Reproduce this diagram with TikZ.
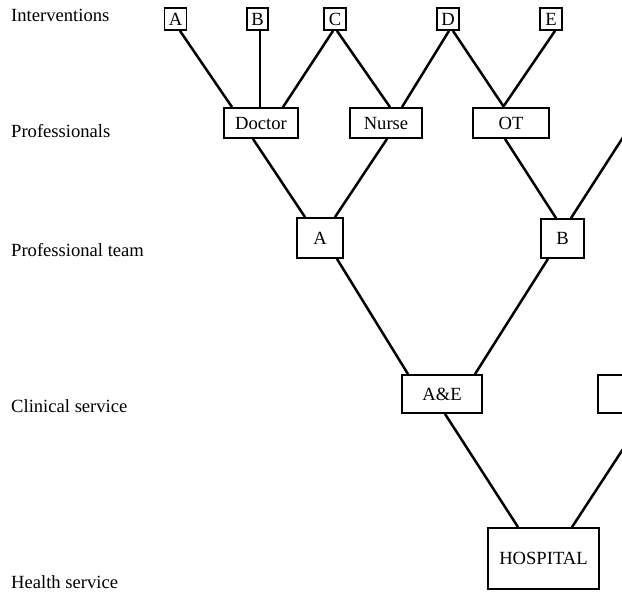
\documentclass[tikz,border=0pt]{standalone}
\usepackage{fontspec}
\setmainfont{Liberation Serif}
\begin{document}
\begin{tikzpicture}[x=1pt,y=-1pt,
  font=\fontsize{18.6}{22}\selectfont,
  box/.style={draw, line width=1.8pt, inner sep=0pt, text height=12.3pt, text depth=0pt},
  link/.style={line width=2.5pt},
  lvl/.style={anchor=base west, inner sep=0pt}]
\useasboundingbox (0,0) rectangle (622,593);
\fill[white] (0,0) rectangle (622,593);
\clip (0,0) rectangle (622,593);
% level labels
\node[lvl] (l1) at (11,22) {Interventions};
\node[lvl] (l2) at (11,138) {Professionals};
\node[lvl] (l3) at (11,257) {Professional team};
\node[lvl] (l4) at (11,413) {Clinical service};
\node[lvl] (l5) at (11,589) {Health service};
% interventions
\node[box, minimum width=22, minimum height=22] (iA) at (175.5,19) {A};
\node[box, minimum width=21, minimum height=22] (iB) at (257.5,19) {B};
\node[box, minimum width=22, minimum height=22] (iC) at (335,19) {C};
\node[box, minimum width=22, minimum height=22] (iD) at (448,19) {D};
\node[box, minimum width=22, minimum height=22] (iE) at (551,19) {E};
% professionals
\node[box, minimum width=74, minimum height=30] (doc) at (261,123) {Doctor};
\node[box, minimum width=72, minimum height=30] (nur) at (386,123) {Nurse};
\node[box, minimum width=76, minimum height=30] (ot) at (511,123) {OT};
% teams
\node[box, minimum width=46, minimum height=40] (tA) at (320,238) {A};
\node[box, minimum width=43, minimum height=39] (tB) at (562.5,238.5) {B};
% clinical services
\node[box, minimum width=80, minimum height=38] (ae) at (442,394) {A\&E};
\node[box, minimum width=82, minimum height=38] (rbox) at (639,394) {};
% hospital
\node[box, minimum width=111, minimum height=61] (hosp) at (543.5,558.5) {HOSPITAL};
\coordinate (pR) at (631,125);
% connectors
\draw[link] ([xshift=4.5pt]iA.south) -- ([xshift=-29pt]doc.north);
\draw[link] ([xshift=2.5pt]iB.south) -- ([xshift=-1pt]doc.north);
\draw[link] ([xshift=-2pt]iC.south) -- ([xshift=22pt]doc.north);
\draw[link] ([xshift=2pt]iC.south) -- ([xshift=4pt]nur.north);
\draw[link] ([xshift=1pt]iD.south) -- ([xshift=16pt]nur.north);
\draw[link] ([xshift=5pt]iD.south) -- ([xshift=-7pt]ot.north);
\draw[link] ([xshift=4pt]iE.south) -- ([xshift=-8pt]ot.north);
\draw[link] ([xshift=-8pt]doc.south) -- ([xshift=-15pt]tA.north);
\draw[link] ([xshift=1pt]nur.south) -- ([xshift=15pt]tA.north);
\draw[link] ([xshift=-6pt]ot.south) -- ([xshift=-6.5pt]tB.north);
\draw[link] (pR) -- ([xshift=8.5pt]tB.north);
\draw[link] ([xshift=17pt]tA.south) -- ([xshift=-34pt]ae.north);
\draw[link] ([xshift=-14.5pt]tB.south) -- ([xshift=33pt]ae.north);
\draw[link] ([xshift=3pt]ae.south) -- ([xshift=-25.5pt]hosp.north);
\draw[link] ([xshift=28.5pt]hosp.north) -- ([xshift=7pt]rbox.south);
\end{tikzpicture}
\end{document}
